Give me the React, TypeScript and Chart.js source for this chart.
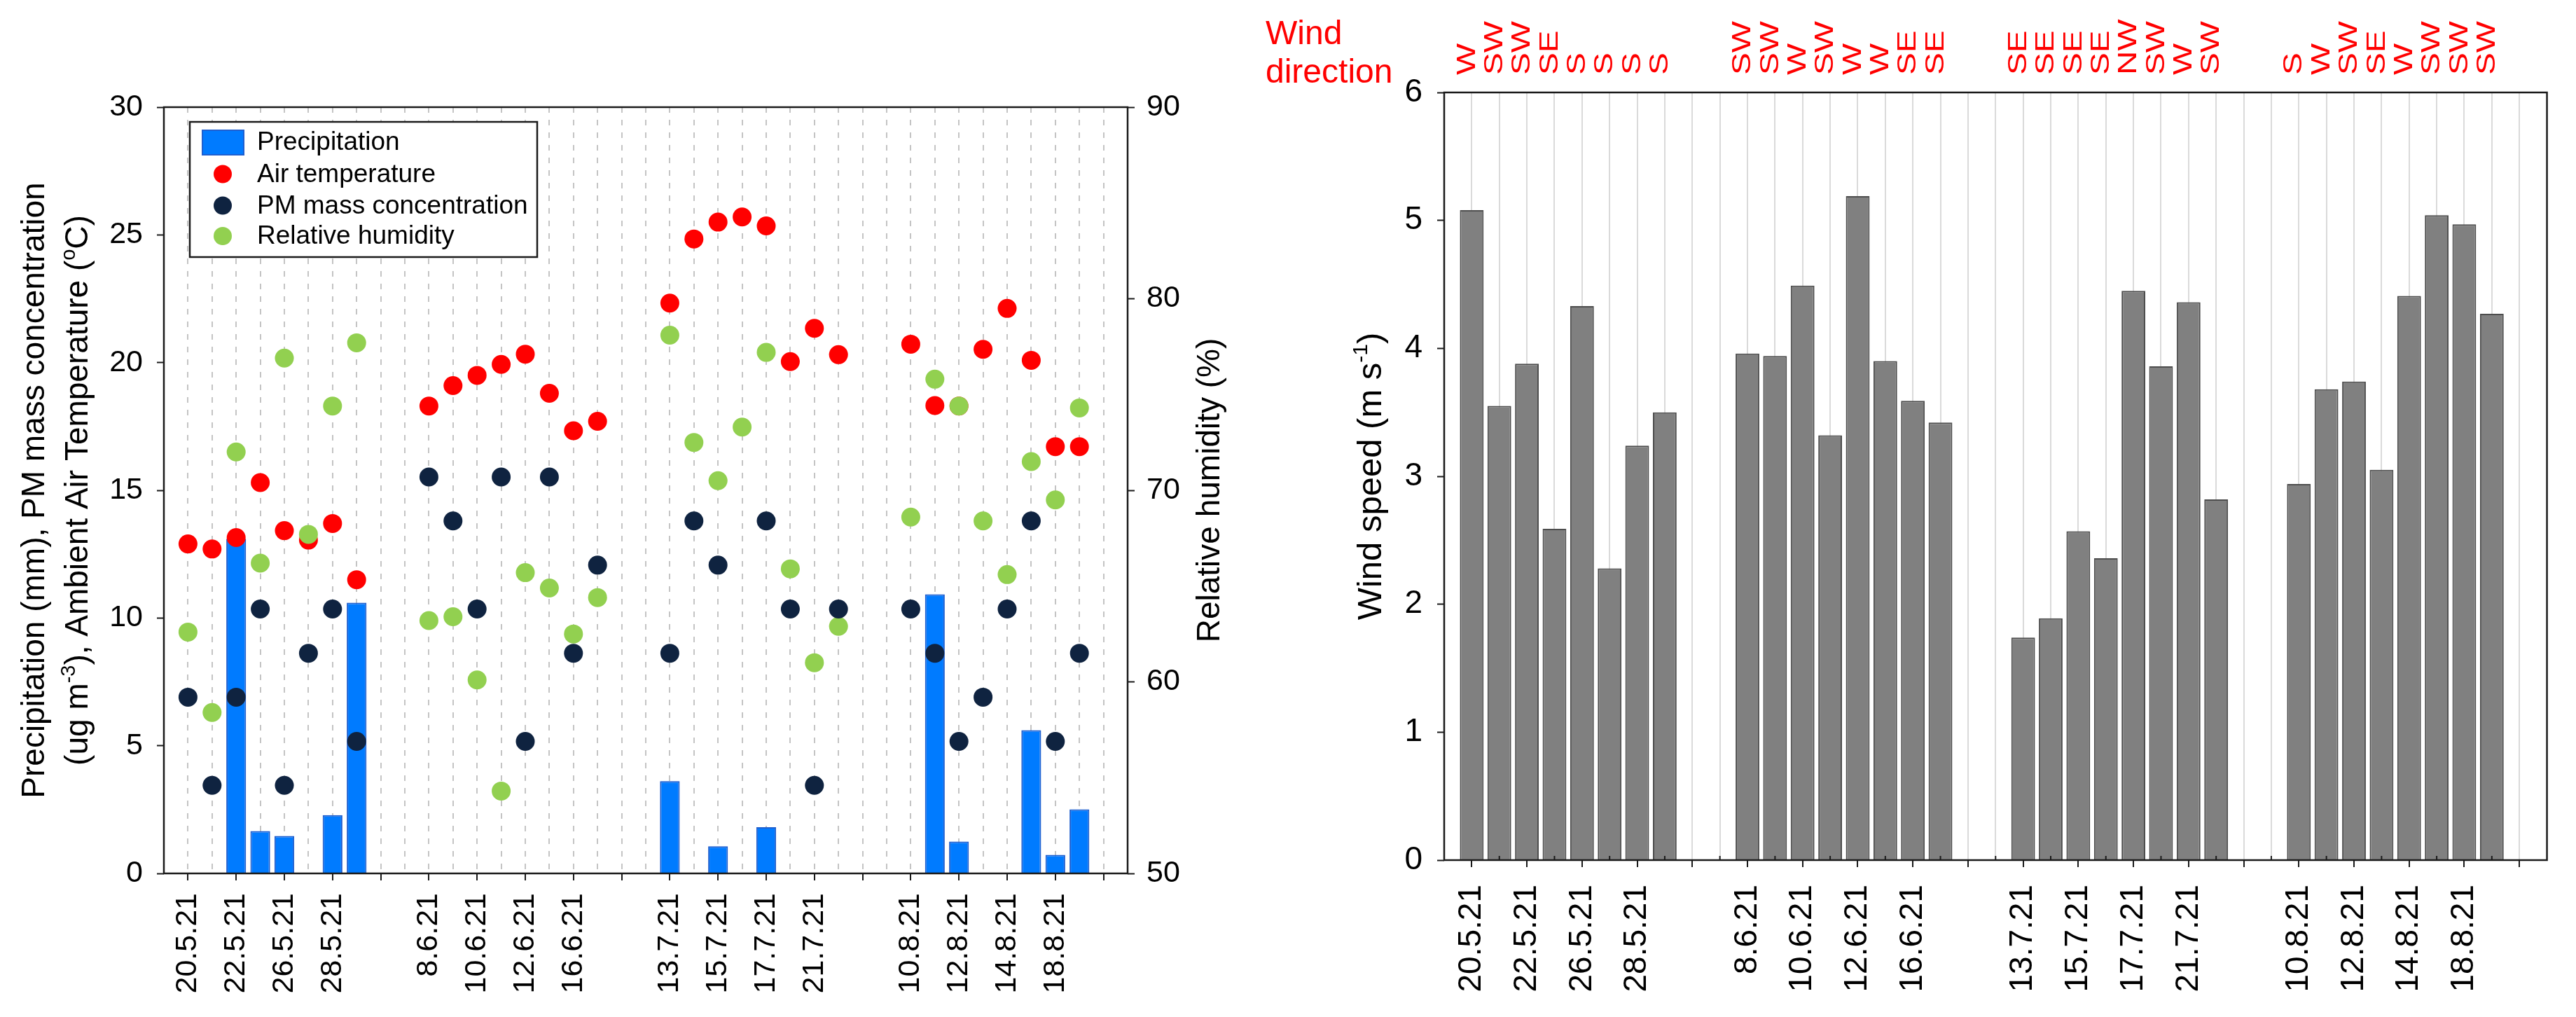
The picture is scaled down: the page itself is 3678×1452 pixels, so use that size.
import React, { useEffect, useRef } from 'react';
import { Chart, registerables } from 'chart.js';

Chart.register(...registerables);

const FONT = "'Liberation Sans', Arial, sans-serif";

// ---- data -----------------------------------------------------------------
// 4 measurement campaigns of 8 days each; campaigns are separated by two empty slots.
const DAYS_PER_GROUP = 8;
const GROUP_STRIDE = 10;

// labels of the even slots 0, 2, 4, ... 38
const TICK_LABELS = [
  '20.5.21', '22.5.21', '26.5.21', '28.5.21', '',
  '8.6.21', '10.6.21', '12.6.21', '16.6.21', '',
  '13.7.21', '15.7.21', '17.7.21', '21.7.21', '',
  '10.8.21', '12.8.21', '14.8.21', '18.8.21', '',
];

const PRECIPITATION = [
  0, 0, 13.1, 1.66, 1.47, 0, 2.28, 10.6,
  0, 0, 0, 0, 0, 0, 0, 0,
  3.61, 0, 1.06, 0, 1.81, 0, 0, 0,
  0, 10.93, 1.25, 0, 0, 5.61, 0.73, 2.51,
];

const AIR_TEMPERATURE = [
  12.9, 12.7, 13.15, 15.3, 13.42, 13.05, 13.7, 11.5,
  18.3, 19.1, 19.5, 19.93, 20.33, 18.8, 17.33, 17.7,
  22.33, 24.84, 25.5, 25.7, 25.35, 20.04, 21.34, 20.31,
  20.72, 18.32, 18.3, 20.52, 22.12, 20.09, 16.71, 16.71,
];

const PM_MASS = [
  6.9, 3.45, 6.9, 10.35, 3.45, 8.62, 10.35, 5.17,
  15.52, 13.8, 10.35, 15.52, 5.17, 15.52, 8.62, 12.07,
  8.62, 13.8, 12.07, null, 13.8, 10.35, 3.45, 10.35,
  10.35, 8.62, 5.17, 6.9, 10.35, 13.8, 5.17, 8.62,
];

const RELATIVE_HUMIDITY = [
  62.6, 58.4, 72.0, 66.2, 76.9, 67.7, 74.4, 77.7,
  63.2, 63.4, 60.1, 54.3, 65.7, 64.9, 62.5, 64.4,
  78.1, 72.5, 70.5, 73.3, 77.2, 65.9, 61.0, 62.9,
  68.6, 75.8, 74.4, 68.4, 65.6, 71.5, 69.5, 74.3,
];

const WIND_SPEED = [
  5.08, 3.55, 3.88, 2.59, 4.33, 2.28, 3.24, 3.5,
  3.96, 3.94, 4.49, 3.32, 5.19, 3.9, 3.59, 3.42,
  1.74, 1.89, 2.57, 2.36, 4.45, 3.86, 4.36, 2.82,
  2.94, 3.68, 3.74, 3.05, 4.41, 5.04, 4.97, 4.27,
];

const WIND_DIRECTION = [
  'W', 'SW', 'SW', 'SE', 'S', 'S', 'S', 'S',
  'SW', 'SW', 'W', 'SW', 'W', 'W', 'SE', 'SE',
  'SE', 'SE', 'SE', 'SE', 'NW', 'SW', 'W', 'SW',
  'S', 'W', 'SW', 'SE', 'W', 'SW', 'SW', 'SW',
];

// ---- helpers --------------------------------------------------------------
const slotOf = (i: number) =>
  Math.floor(i / DAYS_PER_GROUP) * GROUP_STRIDE + (i % DAYS_PER_GROUP);
const toPoints = (values: (number | null)[]) =>
  values
    .map((v, i) => ({ x: slotOf(i), y: v }))
    .filter((p) => p.y !== null) as { x: number; y: number }[];
const SLOT_TICKS = Array.from({ length: TICK_LABELS.length * 2 - 1 }, (_, i) => i);

type Seg = { t: string; sup?: boolean };

function drawVerticalRich(
  ctx: CanvasRenderingContext2D,
  segs: Seg[],
  size: number,
  color: string,
  baselineX: number,
  centerY: number,
) {
  ctx.save();
  ctx.translate(baselineX, centerY);
  ctx.rotate(-Math.PI / 2);
  ctx.fillStyle = color;
  ctx.textAlign = 'left';
  ctx.textBaseline = 'alphabetic';
  const supSize = Math.round(size * 0.62);
  const widths = segs.map((s) => {
    ctx.font = `${s.sup ? supSize : size}px ${FONT}`;
    return ctx.measureText(s.t).width;
  });
  const total = widths.reduce((a, b) => a + b, 0);
  let x = -total / 2;
  segs.forEach((s, i) => {
    ctx.font = `${s.sup ? supSize : size}px ${FONT}`;
    ctx.fillText(s.t, x, s.sup ? -size * 0.4 : 0);
    x += widths[i];
  });
  ctx.restore();
}

function drawFrame(chart: any) {
  const { ctx, chartArea: a } = chart;
  ctx.save();
  ctx.strokeStyle = '#1a1a1a';
  ctx.lineWidth = 2.5;
  ctx.strokeRect(a.left, a.top, a.right - a.left, a.bottom - a.top);
  ctx.restore();
}

const xAxis = (opts: {
  fontSize: number;
  padding: number;
  height: number;
  gridColor: string;
  dash: number[];
}) => ({
  type: 'linear',
  position: 'bottom',
  min: -1,
  max: 39,
  offset: false,
  afterBuildTicks: (axis: any) => {
    axis.ticks = SLOT_TICKS.map((v) => ({ value: v }));
  },
  afterFit: (axis: any) => {
    axis.height = opts.height;
  },
  ticks: {
    autoSkip: false,
    minRotation: 90,
    maxRotation: 90,
    padding: opts.padding,
    color: '#000',
    font: { family: FONT, size: opts.fontSize },
    callback: (v: any) => (Number(v) % 2 === 0 ? TICK_LABELS[Number(v) / 2] : ''),
  },
  grid: {
    offset: false,
    color: opts.gridColor,
    lineWidth: 2,
    drawTicks: true,
    tickLength: 10,
    tickWidth: 2,
    tickColor: (c: any) =>
      c.tick && c.tick.value % 2 === 0 ? '#1a1a1a' : 'rgba(0,0,0,0)',
  },
  border: { display: false, dash: opts.dash },
});

const yAxis = (o: {
  position: 'left' | 'right';
  min: number;
  max: number;
  step: number;
  width: number;
  fontSize: number;
  padding: number;
}) => ({
  type: 'linear',
  position: o.position,
  min: o.min,
  max: o.max,
  afterFit: (axis: any) => {
    axis.width = o.width;
  },
  ticks: {
    stepSize: o.step,
    padding: o.padding,
    color: '#000',
    font: { family: FONT, size: o.fontSize },
  },
  grid: {
    drawOnChartArea: false,
    drawTicks: true,
    tickLength: 10,
    tickWidth: 2,
    tickColor: '#1a1a1a',
  },
  border: { display: false },
});

// ---- plugins --------------------------------------------------------------
const leftDecor = {
  id: 'leftDecor',
  afterDraw(chart: any) {
    const { ctx, chartArea: a } = chart;
    drawFrame(chart);

    // legend box
    const bx = a.left + 37;
    const by = a.top + 21;
    const bw = 496;
    const bh = 193;
    ctx.save();
    ctx.fillStyle = '#fff';
    ctx.fillRect(bx, by, bw, bh);
    ctx.strokeStyle = '#1a1a1a';
    ctx.lineWidth = 2.5;
    ctx.strokeRect(bx, by, bw, bh);
    const rowY = [29, 74.5, 119.5, 163];
    chart.data.datasets.forEach((ds: any, i: number) => {
      const cy = by + rowY[i];
      if (ds.type === 'bar') {
        ctx.fillStyle = ds.backgroundColor;
        ctx.fillRect(bx + 18, cy - 17, 59, 35);
        ctx.strokeStyle = ds.borderColor;
        ctx.lineWidth = 2;
        ctx.strokeRect(bx + 18, cy - 17, 59, 35);
      } else {
        ctx.fillStyle = ds.backgroundColor;
        ctx.beginPath();
        ctx.arc(bx + 47, cy, 13, 0, Math.PI * 2);
        ctx.fill();
      }
      ctx.fillStyle = '#000';
      ctx.font = `37px ${FONT}`;
      ctx.textAlign = 'left';
      ctx.textBaseline = 'middle';
      ctx.fillText(ds.label, bx + 96, cy + 1);
    });
    ctx.restore();

    const cy = (a.top + a.bottom) / 2;
    drawVerticalRich(ctx, [{ t: 'Precipitation (mm), PM mass concentration' }], 46, '#000', 63, cy);
    drawVerticalRich(
      ctx,
      [
        { t: '(ug m' },
        { t: '-3', sup: true },
        { t: '), Ambient Air Temperature (' },
        { t: 'o', sup: true },
        { t: 'C)' },
      ],
      46,
      '#000',
      125,
      cy,
    );
    drawVerticalRich(ctx, [{ t: 'Relative humidity (%)' }], 46, '#000', a.right + 131, cy);
  },
};

const RIGHT_OFFSET = 1790;

const rightDecor = {
  id: 'rightDecor',
  afterDraw(chart: any) {
    const { ctx, chartArea: a, scales } = chart;
    const xs = scales.x;
    // minor inward ticks at odd slots
    ctx.save();
    ctx.strokeStyle = '#1a1a1a';
    ctx.lineWidth = 2;
    SLOT_TICKS.filter((v) => v % 2 === 1).forEach((v) => {
      const px = xs.getPixelForValue(v);
      ctx.beginPath();
      ctx.moveTo(px, a.bottom);
      ctx.lineTo(px, a.bottom - 6);
      ctx.stroke();
    });
    ctx.restore();
    drawFrame(chart);

    // wind direction header
    ctx.save();
    ctx.fillStyle = '#ff0000';
    ctx.font = `48px ${FONT}`;
    ctx.textAlign = 'left';
    ctx.textBaseline = 'alphabetic';
    ctx.fillText('Wind', 1807 - RIGHT_OFFSET, 63);
    ctx.fillText('direction', 1807 - RIGHT_OFFSET, 118);
    ctx.font = `37px ${FONT}`;
    ctx.textBaseline = 'middle';
    WIND_DIRECTION.forEach((d, i) => {
      const px = xs.getPixelForValue(slotOf(i));
      ctx.save();
      ctx.translate(px - 6, 107);
      ctx.rotate(-Math.PI / 2);
      ctx.scale(1.29, 1);
      ctx.fillText(d, 0, 0);
      ctx.restore();
    });
    ctx.restore();

    drawVerticalRich(
      ctx,
      [{ t: 'Wind speed (m s' }, { t: '-1', sup: true }, { t: ')' }],
      49,
      '#000',
      1972 - RIGHT_OFFSET,
      (a.top + a.bottom) / 2,
    );
  },
};

// ---- component ------------------------------------------------------------
export default function App() {
  const leftRef = useRef<HTMLCanvasElement>(null);
  const rightRef = useRef<HTMLCanvasElement>(null);

  useEffect(() => {
    const left = new Chart(leftRef.current as HTMLCanvasElement, {
      type: 'scatter',
      data: {
        datasets: [
          {
            type: 'bar',
            label: 'Precipitation',
            data: toPoints(PRECIPITATION),
            backgroundColor: '#007bff',
            borderColor: '#1f5fcf',
            borderWidth: 2,
            categoryPercentage: 0.82,
            barPercentage: 1,
            yAxisID: 'y',
            order: 10,
          } as any,
          {
            label: 'Air temperature',
            data: toPoints(AIR_TEMPERATURE),
            backgroundColor: '#ff0000',
            borderWidth: 0,
            pointRadius: 13.5,
            yAxisID: 'y',
            order: 3,
          },
          {
            label: 'PM mass concentration',
            data: toPoints(PM_MASS),
            backgroundColor: '#0f2340',
            borderWidth: 0,
            pointRadius: 13.5,
            yAxisID: 'y',
            order: 1,
          },
          {
            label: 'Relative humidity',
            data: toPoints(RELATIVE_HUMIDITY),
            backgroundColor: '#92d050',
            borderWidth: 0,
            pointRadius: 13.5,
            yAxisID: 'y1',
            order: 2,
          },
        ],
      },
      options: {
        animation: false,
        responsive: false,
        devicePixelRatio: 1,
        events: [],
        layout: { padding: { top: 153, left: 0, right: 0, bottom: 0 } },
        plugins: { legend: { display: false }, tooltip: { enabled: false } },
        scales: {
          x: xAxis({ fontSize: 43, padding: 18, height: 205, gridColor: '#c4c4c4', dash: [8, 10] }),
          y: yAxis({ position: 'left', min: 0, max: 30, step: 5, width: 234, fontSize: 43, padding: 20 }),
          y1: yAxis({ position: 'right', min: 50, max: 90, step: 10, width: 180, fontSize: 43, padding: 17 }),
        } as any,
      },
      plugins: [leftDecor],
    } as any);

    const right = new Chart(rightRef.current as HTMLCanvasElement, {
      type: 'bar',
      data: {
        datasets: [
          {
            label: 'Wind speed',
            data: toPoints(WIND_SPEED),
            backgroundColor: '#808080',
            borderColor: '#4d4d4d',
            borderWidth: 2,
            categoryPercentage: 0.86,
            barPercentage: 1,
          } as any,
        ],
      },
      options: {
        animation: false,
        responsive: false,
        devicePixelRatio: 1,
        events: [],
        layout: { padding: { top: 132, left: 0, right: 24, bottom: 0 } },
        plugins: { legend: { display: false }, tooltip: { enabled: false } },
        scales: {
          x: xAxis({ fontSize: 46, padding: 25, height: 224, gridColor: '#dadada', dash: [] }),
          y: yAxis({ position: 'left', min: 0, max: 6, step: 1, width: 272, fontSize: 46, padding: 21 }),
        } as any,
      },
      plugins: [rightDecor],
    } as any);

    return () => {
      left.destroy();
      right.destroy();
    };
  }, []);

  return (
    <div
      style={{
        position: 'absolute',
        left: 0,
        top: 0,
        width: 3678,
        height: 1452,
        background: '#fff',
        overflow: 'hidden',
      }}
    >
      <canvas
        ref={leftRef}
        width={1790}
        height={1452}
        style={{ position: 'absolute', left: 0, top: 0, width: 1790, height: 1452 }}
      />
      <canvas
        ref={rightRef}
        width={1888}
        height={1452}
        style={{ position: 'absolute', left: RIGHT_OFFSET, top: 0, width: 1888, height: 1452 }}
      />
    </div>
  );
}
